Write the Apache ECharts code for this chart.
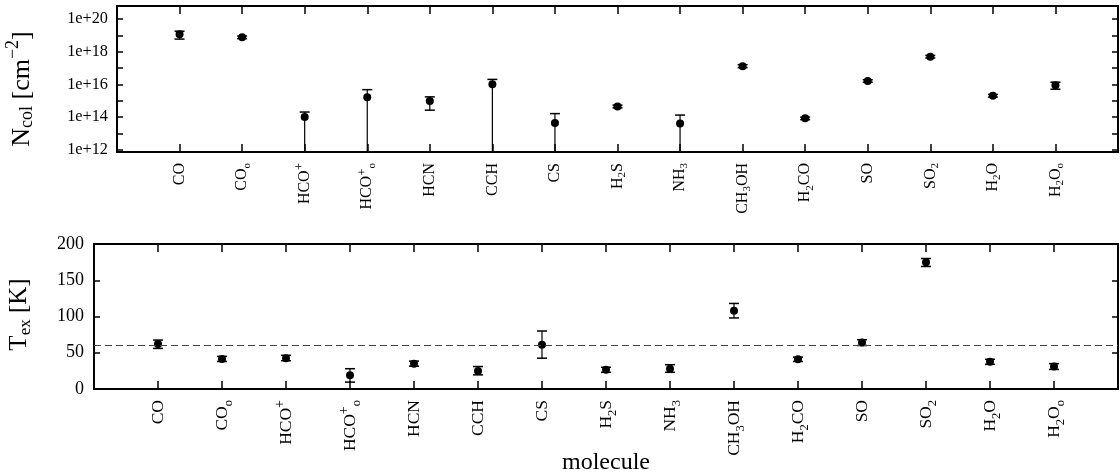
<!DOCTYPE html>
<html><head><meta charset="utf-8">
<script src="https://cdn.jsdelivr.net/npm/echarts@6/dist/echarts.min.js"></script>
<style>html,body{margin:0;padding:0;background:#fff}#c{width:1120px;height:472px}</style>
</head><body><div id="c"></div>
<script>
// ---- data (gnuplot-style markup: ^ superscript, _ subscript) ----
const categories = ['CO','CO_o','HCO^+','HCO^+_o','HCN','CCH','CS','H_2S','NH_3','CH_3OH','H_2CO','SO','SO_2','H_2O','H_2O_o'];
const ncolValue = [1.15e19, 7.6e18, 1.0e14, 1.6e15, 9.4e14, 1.0e16, 4.3e13, 4.4e14, 4.0e13, 1.3e17, 8.2e13, 1.6e16, 4.9e17, 2.0e15, 8.7e15];
const ncolUpper = [1.8e19, 9.1e18, 2.0e14, 4.7e15, 1.7e15, 2.0e16, 1.6e14, 5.3e14, 1.3e14, 1.6e17, 9.8e13, 1.9e16, 5.9e17, 2.4e15, 1.35e16];
const ncolLower = [5.9e18, 6.3e18, null, null, 2.6e14, null, null, 3.6e14, null, 1.05e17, 6.8e13, 1.35e16, 4.1e17, 1.65e15, 5.0e15];
const texValue = [62, 41.5, 42.5, 19, 35, 25, 61, 26.5, 28, 108, 41, 64, 175, 37.5, 31];
const texUpper = [67.5, 45, 46.5, 28, 38.5, 31, 80, 30, 33.5, 118, 44, 68, 180, 41, 35];
const texLower = [56, 38, 39, 9.5, 31.5, 19.5, 42.5, 23, 23, 98, 38, 60, 169, 34, 27];
const texReference = 60;
const ncolTickLabels = ['1e+12','1e+14','1e+16','1e+18','1e+20'];
const texTickLabels = ['0','50','100','150','200'];
const ncolName = 'N_{col} [cm^{−2}]';
const texName = 'T_{ex} [K]';
const xName = 'molecule';

const FONT = '"Liberation Serif", "Times New Roman", serif';

function toRich(s) {
  let out = '', buf = '', i = 0;
  const flush = () => { if (buf) { out += '{n|' + buf + '}'; buf = ''; } };
  while (i < s.length) {
    const ch = s[i];
    if (ch === '^' || ch === '_') {
      flush();
      let part;
      if (s[i + 1] === '{') { const j = s.indexOf('}', i + 2); part = s.slice(i + 2, j); i = j + 1; }
      else { part = s[i + 1]; i += 2; }
      out += '{' + (ch === '^' ? 'sup' : 'sub') + '|' + part + '}';
    } else { buf += ch; i++; }
  }
  flush();
  return out;
}
function richStyles(size, small, lh, subPad, supPad, supSize) {
  return {
    n: { fontFamily: FONT, fontSize: size, lineHeight: lh, color: '#000' },
    sub: { fontFamily: FONT, fontSize: small, lineHeight: lh, padding: [subPad, 0, 0, 0], color: '#000' },
    sup: { fontFamily: FONT, fontSize: supSize || small, lineHeight: lh, padding: [0, 0, supPad, 0], color: '#000' }
  };
}
const catFormatter = v => {
  const k = Math.round(v);
  return (Math.abs(v - k) < 1e-6 && k >= 0 && k < categories.length) ? toRich(categories[k]) : '';
};
const logFormatter = v => {
  const l = Math.log10(v), e = Math.round(l);
  if (Math.abs(l - e) > 1e-6) return '';
  const s = '1e+' + e;
  return ncolTickLabels.includes(s) ? s : '';
};
const texFormatter = v => {
  const s = String(Math.round(v));
  return texTickLabels.includes(s) ? s : '';
};

function errorBars(up, low) {
  return function (params, api) {
    const i = params.dataIndex;
    const cs = params.coordSys;
    const x = api.value(0);
    const top = api.coord([x, up[i]]);
    const yb = low[i] == null ? cs.y + cs.height : api.coord([x, low[i]])[1];
    const px = top[0];
    const children = [
      { type: 'line', shape: { x1: px, y1: top[1], x2: px, y2: yb }, style: { stroke: '#000', lineWidth: 1.2 } },
      { type: 'line', shape: { x1: px - 5, y1: top[1], x2: px + 5, y2: top[1] }, style: { stroke: '#000', lineWidth: 1.5 } }
    ];
    if (low[i] != null) children.push({ type: 'line', shape: { x1: px - 5, y1: yb, x2: px + 5, y2: yb }, style: { stroke: '#000', lineWidth: 1.5 } });
    return { type: 'group', children };
  };
}

const frame = { show: true, onZero: false, lineStyle: { color: '#000', width: 2 } };
function xAx(grid, pos, rich, extra) {
  return Object.assign({
    gridIndex: grid, type: 'value', position: pos, min: -1, max: 15, interval: 1,
    axisLine: frame,
    axisTick: { show: true, inside: true, length: 8, lineStyle: { color: '#000', width: 1.5 } },
    axisLabel: rich ? { show: true, rotate: 90, margin: 11, formatter: catFormatter, rich: rich } : { show: false },
    splitLine: { show: false }
  }, extra || {});
}

const option = {
  animation: false,
  backgroundColor: '#fff',
  grid: [
    { left: 117, right: 2, top: 6, height: 146, containLabel: false, outerBoundsMode: 'none' },
    { left: 94, right: 2, top: 244, height: 145, containLabel: false, outerBoundsMode: 'none' }
  ],
  xAxis: [
    xAx(0, 'bottom', richStyles(16, 11, 16, 9, 10, 13)),
    xAx(0, 'top', null),
    xAx(1, 'bottom', richStyles(17.5, 12.5, 17.5, 13, 11, 14), {
      name: xName, nameLocation: 'middle', nameGap: 62, nameMoveOverlap: false,
      nameTextStyle: { fontFamily: FONT, fontSize: 24, color: '#000', lineHeight: 24 }
    }),
    xAx(1, 'top', null)
  ],
  yAxis: [
    {
      gridIndex: 0, type: 'log', logBase: 10, position: 'left', min: 7.1e11, max: 6.3e20,
      axisLine: frame,
      axisTick: { show: true, inside: true, length: 6, lineStyle: { color: '#000', width: 1.5 } },
      axisLabel: { formatter: logFormatter, margin: 9, fontFamily: FONT, fontSize: 16.3, color: '#000' },
      splitLine: { show: false }, minorTick: { show: false },
      name: toRich(ncolName), nameLocation: 'middle', nameGap: 82, nameMoveOverlap: false,
      nameTextStyle: { padding: [0, 20, 0, 0], rich: richStyles(26, 18, 26, 11, 18) }
    },
    {
      gridIndex: 0, type: 'log', logBase: 10, position: 'right', min: 7.1e11, max: 6.3e20,
      axisLine: frame,
      axisTick: { show: true, inside: true, length: 6, lineStyle: { color: '#000', width: 1.5 } },
      axisLabel: { show: false }, splitLine: { show: false }
    },
    {
      gridIndex: 1, type: 'value', position: 'left', min: 0, max: 200, interval: 50,
      axisLine: frame,
      axisTick: { show: true, inside: true, length: 6, lineStyle: { color: '#000', width: 1.5 } },
      axisLabel: { formatter: texFormatter, margin: 10, fontFamily: FONT, fontSize: 18, color: '#000' },
      splitLine: { show: false },
      name: toRich(texName), nameLocation: 'middle', nameGap: 62, nameMoveOverlap: false,
      nameTextStyle: { padding: [0, 0, 0, 4], rich: richStyles(25, 17, 25, 12, 19) }
    },
    {
      gridIndex: 1, type: 'value', position: 'right', min: 0, max: 200, interval: 50,
      axisLine: frame,
      axisTick: { show: true, inside: true, length: 6, lineStyle: { color: '#000', width: 1.5 } },
      axisLabel: { show: false }, splitLine: { show: false }
    }
  ],
  series: [
    {
      type: 'custom', xAxisIndex: 0, yAxisIndex: 0, silent: true,
      data: categories.map((_, i) => [i, ncolValue[i]]), encode: { x: 0, y: 1 },
      renderItem: errorBars(ncolUpper, ncolLower)
    },
    {
      type: 'scatter', xAxisIndex: 0, yAxisIndex: 0, symbol: 'circle', symbolSize: 8, silent: true,
      itemStyle: { color: '#000', opacity: 1 },
      data: categories.map((_, i) => [i, ncolValue[i]])
    },
    {
      type: 'custom', xAxisIndex: 2, yAxisIndex: 2, silent: true,
      data: categories.map((_, i) => [i, texValue[i]]), encode: { x: 0, y: 1 },
      renderItem: errorBars(texUpper, texLower)
    },
    {
      type: 'scatter', xAxisIndex: 2, yAxisIndex: 2, symbol: 'circle', symbolSize: 8, silent: true,
      itemStyle: { color: '#000', opacity: 1 },
      data: categories.map((_, i) => [i, texValue[i]]),
      markLine: {
        silent: true, symbol: 'none', label: { show: false },
        lineStyle: { type: [7, 4], color: '#444', width: 1.2, opacity: 1 },
        data: [{ yAxis: texReference }]
      }
    }
  ]
};
const chart = echarts.init(document.getElementById('c'), null, { renderer: 'canvas' });
chart.setOption(option);
</script>
</body></html>
